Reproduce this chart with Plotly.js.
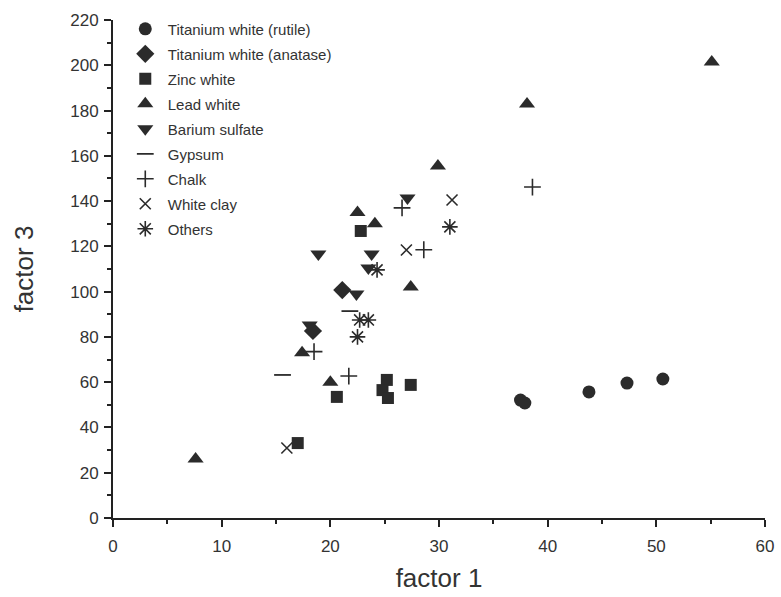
<!DOCTYPE html>
<html>
<head>
<meta charset="utf-8">
<script src="https://cdn.plot.ly/plotly-3.0.1.min.js"></script>
<style>html,body{margin:0;padding:0;background:#fff;}#chart{width:781px;height:597px;}</style>
</head>
<body>
<div id="chart"></div>
<script>
// Data (factor 1 vs factor 3)
const seriesNames = ["Titanium white (rutile)", "Titanium white (anatase)", "Zinc white", "Lead white", "Barium sulfate", "Gypsum", "Chalk", "White clay", "Others"];

const rutileX = [37.5, 37.9, 43.8, 47.3, 50.6];
const rutileY = [52.1, 50.8, 55.7, 59.6, 61.4];

const anataseX = [21.1, 18.4];
const anataseY = [100.7, 82.6];

const zincX = [22.8, 20.6, 25.2, 24.8, 25.3, 27.4, 17.0];
const zincY = [126.8, 53.5, 61.0, 56.5, 53.0, 58.8, 33.1];

const leadX = [7.6, 17.4, 20.0, 22.5, 24.1, 27.4, 29.9, 38.1, 55.1];
const leadY = [26.1, 73.0, 60.0, 135.0, 130.0, 102.0, 155.5, 182.9, 201.5];

const bariumX = [18.9, 23.8, 23.5, 22.4, 18.1, 27.1];
const bariumY = [116.6, 116.6, 110.4, 99.0, 85.3, 141.4];

const gypsumX = [15.6, 21.8];
const gypsumY = [63.2, 91.4];

const chalkX = [18.5, 21.7, 26.6, 28.6, 38.6];
const chalkY = [73.5, 62.7, 137.0, 118.5, 146.2];

const clayX = [16.0, 27.0, 31.2];
const clayY = [30.9, 118.4, 140.5];

const othersX = [24.3, 22.7, 23.5, 22.5, 31.0];
const othersY = [109.6, 87.5, 87.5, 80.0, 128.6];

const xTicks = [0, 10, 20, 30, 40, 50, 60];
const yTicks = [0, 20, 40, 60, 80, 100, 120, 140, 160, 180, 200, 220];

const ink = "#2b2b2b";
const filled = (sym, size) => ({symbol: sym, size: size, color: ink, line: {width: 0}});
const open = (sym, size, w) => ({symbol: sym, size: size, color: ink, line: {width: w, color: ink}});

const specs = [
  [rutileX, rutileY, filled("circle", 13)],
  [anataseX, anataseY, filled("diamond", 14)],
  [zincX, zincY, filled("square", 12)],
  [leadX, leadY, filled("triangle-up", 14)],
  [bariumX, bariumY, filled("triangle-down", 14)],
  [gypsumX, gypsumY, open("line-ew", 12, 1.8)],
  [chalkX, chalkY, open("cross-thin", 12, 1.6)],
  [clayX, clayY, open("x-thin", 11, 1.6)],
  [othersX, othersY, open("asterisk", 13, 1.6)]
];

const traces = specs.map((s, i) => ({
  type: "scatter", mode: "markers",
  x: s[0], y: s[1], name: seriesNames[i],
  marker: s[2], legendgroup: "g" + i, cliponaxis: false
}));

const font = "Liberation Sans, Arial, Helvetica, sans-serif";

const layout = {
  width: 781, height: 597,
  paper_bgcolor: "#fff", plot_bgcolor: "#fff",
  margin: {l: 113, r: 16, t: 20, b: 79, autoexpand: false},
  font: {family: font, color: "#333"},
  showlegend: true,
  legend: {
    x: 0.015, y: 1.015, xanchor: "left", yanchor: "top",
    bgcolor: "rgba(0,0,0,0)", font: {family: font, size: 15, color: "#333"},
    traceorder: "grouped", tracegroupgap: 2.5, itemwidth: 35
  },
  xaxis: {
    range: [0, 60], tickvals: xTicks, ticktext: xTicks.map(String),
    showgrid: false, zeroline: false, showline: true, linecolor: "#222", linewidth: 2,
    ticks: "outside", ticklen: 7, tickwidth: 2, tickcolor: "#222",
    minor: {dtick: 5, tick0: 0, ticks: "outside", ticklen: 4, tickwidth: 2, tickcolor: "#222", showgrid: false},
    tickfont: {family: font, size: 17, color: "#333"},
    ticklabelstandoff: 5,
    title: {text: "factor 1", font: {family: font, size: 26, color: "#333"}, standoff: 13}
  },
  yaxis: {
    range: [0, 220], tickvals: yTicks, ticktext: yTicks.map(String),
    showgrid: false, zeroline: false, showline: true, linecolor: "#222", linewidth: 2,
    ticks: "outside", ticklen: 7, tickwidth: 2, tickcolor: "#222",
    minor: {dtick: 10, tick0: 0, ticks: "outside", ticklen: 4, tickwidth: 2, tickcolor: "#222", showgrid: false},
    tickfont: {family: font, size: 17, color: "#333"},
    ticklabelstandoff: 2,
    title: {text: "factor 3", font: {family: font, size: 26, color: "#333"}, standoff: 29}
  }
};

Plotly.newPlot("chart", traces, layout, {displayModeBar: false, staticPlot: true});
</script>
</body>
</html>
